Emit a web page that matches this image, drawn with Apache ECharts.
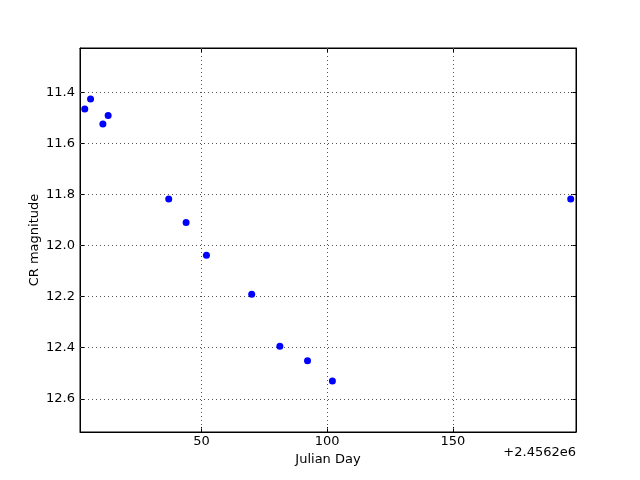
<!DOCTYPE html>
<html><head><meta charset="utf-8">
<script src="https://cdn.jsdelivr.net/npm/echarts@6/dist/echarts.min.js"></script>
<style>html,body{margin:0;padding:0;background:#fff}#c{width:640px;height:480px}</style>
</head><body><div id="c"></div>
<script>
// Julian Day offsets from 2456200 and CR magnitudes
const jdOffset = 2456200;
const days = [3.6, 5.9, 10.8, 12.9, 37.0, 43.9, 52.0, 70.0, 81.2, 92.2, 102.1, 196.9];
const mags = [11.465, 11.426, 11.524, 11.490, 11.817, 11.909, 12.038, 12.190, 12.394, 12.451, 12.530, 11.817];
const xTicks = [50, 100, 150];
const yTicks = [11.4, 11.6, 11.8, 12.0, 12.2, 12.4, 12.6];
const xLabel = 'Julian Day';
const yLabel = 'CR magnitude';
const offsetText = '+2.4562e6';

const xMin = 1.7, xMax = 199.0, yMin = 11.226, yMax = 12.730;
const font = 'DejaVu Sans';
const tickCommon = {show: true, inside: true, length: 5, lineStyle: {color: '#000', width: 1}};

const gridLines = [].concat(
  xTicks.map(v => ({xAxis: v})),
  yTicks.map(v => ({yAxis: v}))
);

const chart = echarts.init(document.getElementById('c'), null, {renderer: 'canvas'});
chart.setOption({
  animation: false,
  backgroundColor: '#fff',
  grid: {left: 80, right: 64, top: 48, bottom: 48, show: true, borderColor: '#000', borderWidth: 1},
  xAxis: [{
    type: 'value', min: xMin, max: xMax, position: 'bottom',
    name: xLabel, nameLocation: 'middle', nameGap: 19,
    nameTextStyle: {fontFamily: font, fontSize: 13, color: '#000'},
    axisLine: {show: true, lineStyle: {color: '#000'}},
    axisTick: Object.assign({customValues: xTicks}, tickCommon),
    axisLabel: {customValues: xTicks, fontFamily: font, fontSize: 13, color: '#000', margin: 3,
      formatter: v => String(Math.round(v))},
    splitLine: {show: false}
  }, {
    type: 'value', min: xMin, max: xMax, position: 'top',
    axisLine: {show: true, lineStyle: {color: '#000'}},
    axisTick: Object.assign({customValues: xTicks}, tickCommon),
    axisLabel: {show: false}, splitLine: {show: false}
  }],
  yAxis: [{
    type: 'value', min: yMin, max: yMax, inverse: true, position: 'left',
    name: yLabel, nameLocation: 'middle', nameGap: 39, nameMoveOverlap: false,
    nameTextStyle: {fontFamily: font, fontSize: 13, color: '#000'},
    axisLine: {show: true, lineStyle: {color: '#000'}},
    axisTick: Object.assign({customValues: yTicks}, tickCommon),
    axisLabel: {customValues: yTicks, fontFamily: font, fontSize: 13, color: '#000', margin: 5,
      formatter: v => v.toFixed(1)},
    splitLine: {show: false}
  }, {
    type: 'value', min: yMin, max: yMax, inverse: true, position: 'right',
    axisLine: {show: true, lineStyle: {color: '#000'}},
    axisTick: Object.assign({customValues: yTicks}, tickCommon),
    axisLabel: {show: false}, splitLine: {show: false}
  }],
  graphic: [{
    type: 'text', right: 64, top: 446,
    style: {text: offsetText, fontFamily: font, fontSize: 13, fill: '#000', align: 'right'}
  }],
  series: [{
    type: 'scatter', xAxisIndex: 0, yAxisIndex: 0,
    data: days.map((d, i) => [d, mags[i]]),
    symbol: 'circle', symbolSize: 7,
    itemStyle: {color: '#0000ff', borderWidth: 0, opacity: 1},
    z: 5,
    markLine: {
      silent: true, symbol: ['none', 'none'], animation: false,
      label: {show: false},
      lineStyle: {color: '#555', width: 1, type: [1, 3]},
      emphasis: {disabled: true},
      data: gridLines
    }
  }]
});
</script></body></html>
